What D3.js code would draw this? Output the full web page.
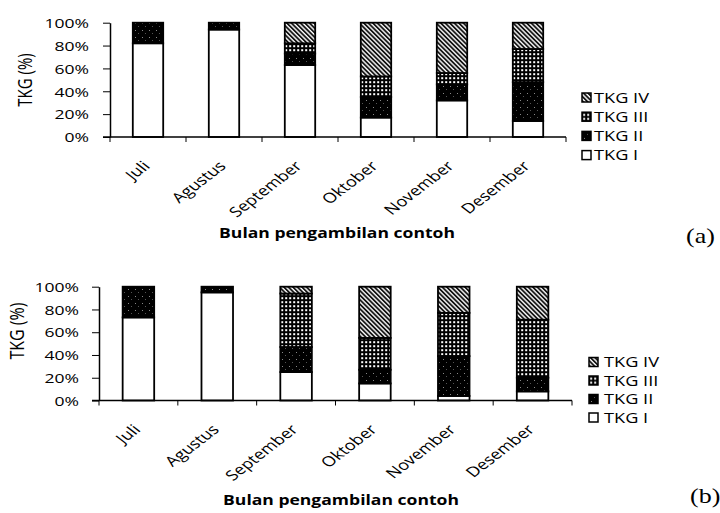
<!DOCTYPE html>
<html>
<head>
<meta charset="utf-8">
<script src="https://cdn.jsdelivr.net/npm/d3@7/dist/d3.min.js"></script>
<style>
    body { margin: 0; background: #fff; }
    svg { display: block; }
    text { font-family: "Open Sans", sans-serif; fill: #000; }
</style>
</head>
<body>
<div id="chart"></div>
<script>
// months on the x axis
const months = ["Juli", "Agustus", "September", "Oktober", "November", "Desember"];
const seriesKeys = ["I", "II", "III", "IV"];
const seriesNames = ["TKG I", "TKG II", "TKG III", "TKG IV"];
const yTicks = [0, 20, 40, 60, 80, 100];

// panel (a), percent per month
const tkgA_I = [82, 94, 63, 17, 32, 14];
const tkgA_II = [18, 6, 10, 18, 14, 34];
const tkgA_III = [0, 0, 9, 18, 10, 29];
const tkgA_IV = [0, 0, 18, 47, 44, 23];

// panel (b)
const tkgB_I = [73, 95, 25, 15, 4, 8];
const tkgB_II = [27, 5, 22, 12, 35, 12];
const tkgB_III = [0, 0, 47, 28, 38, 51];
const tkgB_IV = [0, 0, 6, 45, 23, 29];

const W = 720, H = 513;
const SX = 1.3; // the scanned figure is stretched sideways, text too

const svg = d3.select("#chart").append("svg")
    .attr("width", W)
    .attr("height", H)
    .attr("viewBox", "0 0 " + W + " " + H);

// fill patterns for the four classes
const defs = svg.append("defs");

let p2 = defs.append("pattern").attr("id", "pII")
    .attr("width", 7).attr("height", 7).attr("patternUnits", "userSpaceOnUse");
p2.append("rect").attr("width", 7).attr("height", 7).attr("fill", "#000");
p2.append("rect").attr("x", 2).attr("y", 2).attr("width", 1).attr("height", 1).attr("fill", "#888");
p2.append("rect").attr("x", 5).attr("y", 5).attr("width", 1).attr("height", 1).attr("fill", "#555");

let p3 = defs.append("pattern").attr("id", "pIII")
    .attr("width", 4).attr("height", 4).attr("patternUnits", "userSpaceOnUse");
p3.append("rect").attr("width", 4).attr("height", 4).attr("fill", "#000");
p3.append("rect").attr("x", 1.2).attr("y", 1.2).attr("width", 2).attr("height", 2).attr("fill", "#fff");

let p4 = defs.append("pattern").attr("id", "pIV")
    .attr("width", 3.2).attr("height", 3.2).attr("patternUnits", "userSpaceOnUse")
    .attr("patternTransform", "rotate(-45)");
p4.append("rect").attr("width", 3.2).attr("height", 3.2).attr("fill", "#fff");
p4.append("line").attr("x1", 1).attr("y1", 0).attr("x2", 1).attr("y2", 3.2)
    .attr("stroke", "#000").attr("stroke-width", 1.7);

const fills = {I: "#fff", II: "url(#pII)", III: "url(#pIII)", IV: "url(#pIV)"};

function stretch(x, y, rot) {
    return "translate(" + x + "," + y + ") scale(" + SX + ",1)" + (rot ? " rotate(" + rot + ")" : "");
}

function drawPanel(p, cols) {
    const rows = months.map((m, i) => ({month: m, I: cols[0][i], II: cols[1][i], III: cols[2][i], IV: cols[3][i]}));
    const stacked = d3.stack().keys(seriesKeys)(rows);

    const x = d3.scaleBand().domain(months).range([p.x0, p.x1]).paddingInner(0.6).paddingOuter(0.3);
    const y = d3.scaleLinear().domain([0, 100]).range([p.yBottom, p.yTop]);
    const g = svg.append("g");

    // bars
    g.selectAll("g.series")
        .data(stacked)
        .join("g")
        .attr("class", "series")
        .attr("fill", d => fills[d.key])
        .selectAll("rect")
        .data(d => d.filter(v => v[1] - v[0] > 0))
        .join("rect")
        .attr("x", d => x(d.data.month))
        .attr("y", d => y(d[1]))
        .attr("width", x.bandwidth())
        .attr("height", d => y(d[0]) - y(d[1]))
        .attr("stroke", "#000")
        .attr("stroke-width", 1.8);

    // y axis
    const yAxis = g.append("g")
        .attr("transform", "translate(" + p.x0 + ",0)")
        .call(d3.axisLeft(y).tickValues(yTicks).tickFormat(d => d + "%").tickSize(7).tickSizeOuter(0));
    yAxis.select(".domain").attr("stroke-width", 1.5);
    yAxis.selectAll("text")
        .attr("x", 0).attr("dy", "0.35em")
        .attr("transform", stretch(-p.labelGap, 0))
        .style("font-size", "13.5px");

    // x axis: line plus ticks at the category borders
    g.append("line")
        .attr("x1", p.x0 - 7).attr("x2", p.x1)
        .attr("y1", p.yBottom).attr("y2", p.yBottom)
        .attr("stroke", "#000").attr("stroke-width", 1.5);
    const borders = months.map(m => x(m) - x.step() * 0.3).concat([p.x1]);
    g.selectAll("line.xt")
        .data(borders)
        .join("line")
        .attr("class", "xt")
        .attr("x1", d => d).attr("x2", d => d)
        .attr("y1", p.yBottom).attr("y2", p.yBottom + 5)
        .attr("stroke", "#000");

    g.selectAll("text.xl")
        .data(months)
        .join("text")
        .attr("class", "xl")
        .attr("text-anchor", "end")
        .attr("transform", m => stretch(x(m) + x.bandwidth() / 2 + 3, p.yBottom + 30, -45))
        .style("font-size", "14px")
        .text(m => m);

    // titles
    g.append("text")
        .attr("text-anchor", "middle")
        .attr("transform", stretch(p.titleX, p.titleY))
        .style("font-size", "13.5px")
        .style("font-weight", "bold")
        .text("Bulan pengambilan contoh");

    g.append("text")
        .attr("text-anchor", "middle")
        .attr("dy", "0.35em")
        .attr("transform", stretch(p.yTitleX, p.yTitleY, -90))
        .style("font-size", p.yTitleSize + "px")
        .text("TKG (%)");

    // legend, TKG IV on top
    const leg = g.selectAll("g.leg")
        .data(seriesKeys.slice().reverse())
        .join("g")
        .attr("class", "leg")
        .attr("transform", (d, i) => "translate(" + p.legX + "," + (p.legY + i * p.legStep) + ")");
    leg.append("rect")
        .attr("x", 0).attr("y", -4.5)
        .attr("width", 9).attr("height", 9)
        .attr("fill", d => fills[d])
        .attr("stroke", "#000").attr("stroke-width", 1.5);
    leg.append("text")
        .attr("dy", "0.36em")
        .attr("transform", stretch(p.legText, 0))
        .style("font-size", "14px")
        .text(d => seriesNames[seriesKeys.indexOf(d)]);

    svg.append("text")
        .attr("transform", stretch(p.tagX, p.tagY))
        .style("font-family", "'Liberation Serif', serif")
        .style("font-size", "20px")
        .text(p.tag);
}

drawPanel({x0: 110, x1: 566, yTop: 22.7, yBottom: 137, labelGap: 21,
    titleX: 337, titleY: 238, yTitleX: 25, yTitleY: 80, yTitleSize: 15,
    legX: 582, legY: 97.5, legStep: 19.2, legText: 12, tag: "(a)", tagX: 686, tagY: 243},
    [tkgA_I, tkgA_II, tkgA_III, tkgA_IV]);

drawPanel({x0: 99, x1: 572, yTop: 286.7, yBottom: 400.5, labelGap: 20,
    titleX: 341, titleY: 505, yTitleX: 17, yTitleY: 331, yTitleSize: 16,
    legX: 589, legY: 362, legStep: 18.5, legText: 15, tag: "(b)", tagX: 690, tagY: 503},
    [tkgB_I, tkgB_II, tkgB_III, tkgB_IV]);
</script>
</body>
</html>
